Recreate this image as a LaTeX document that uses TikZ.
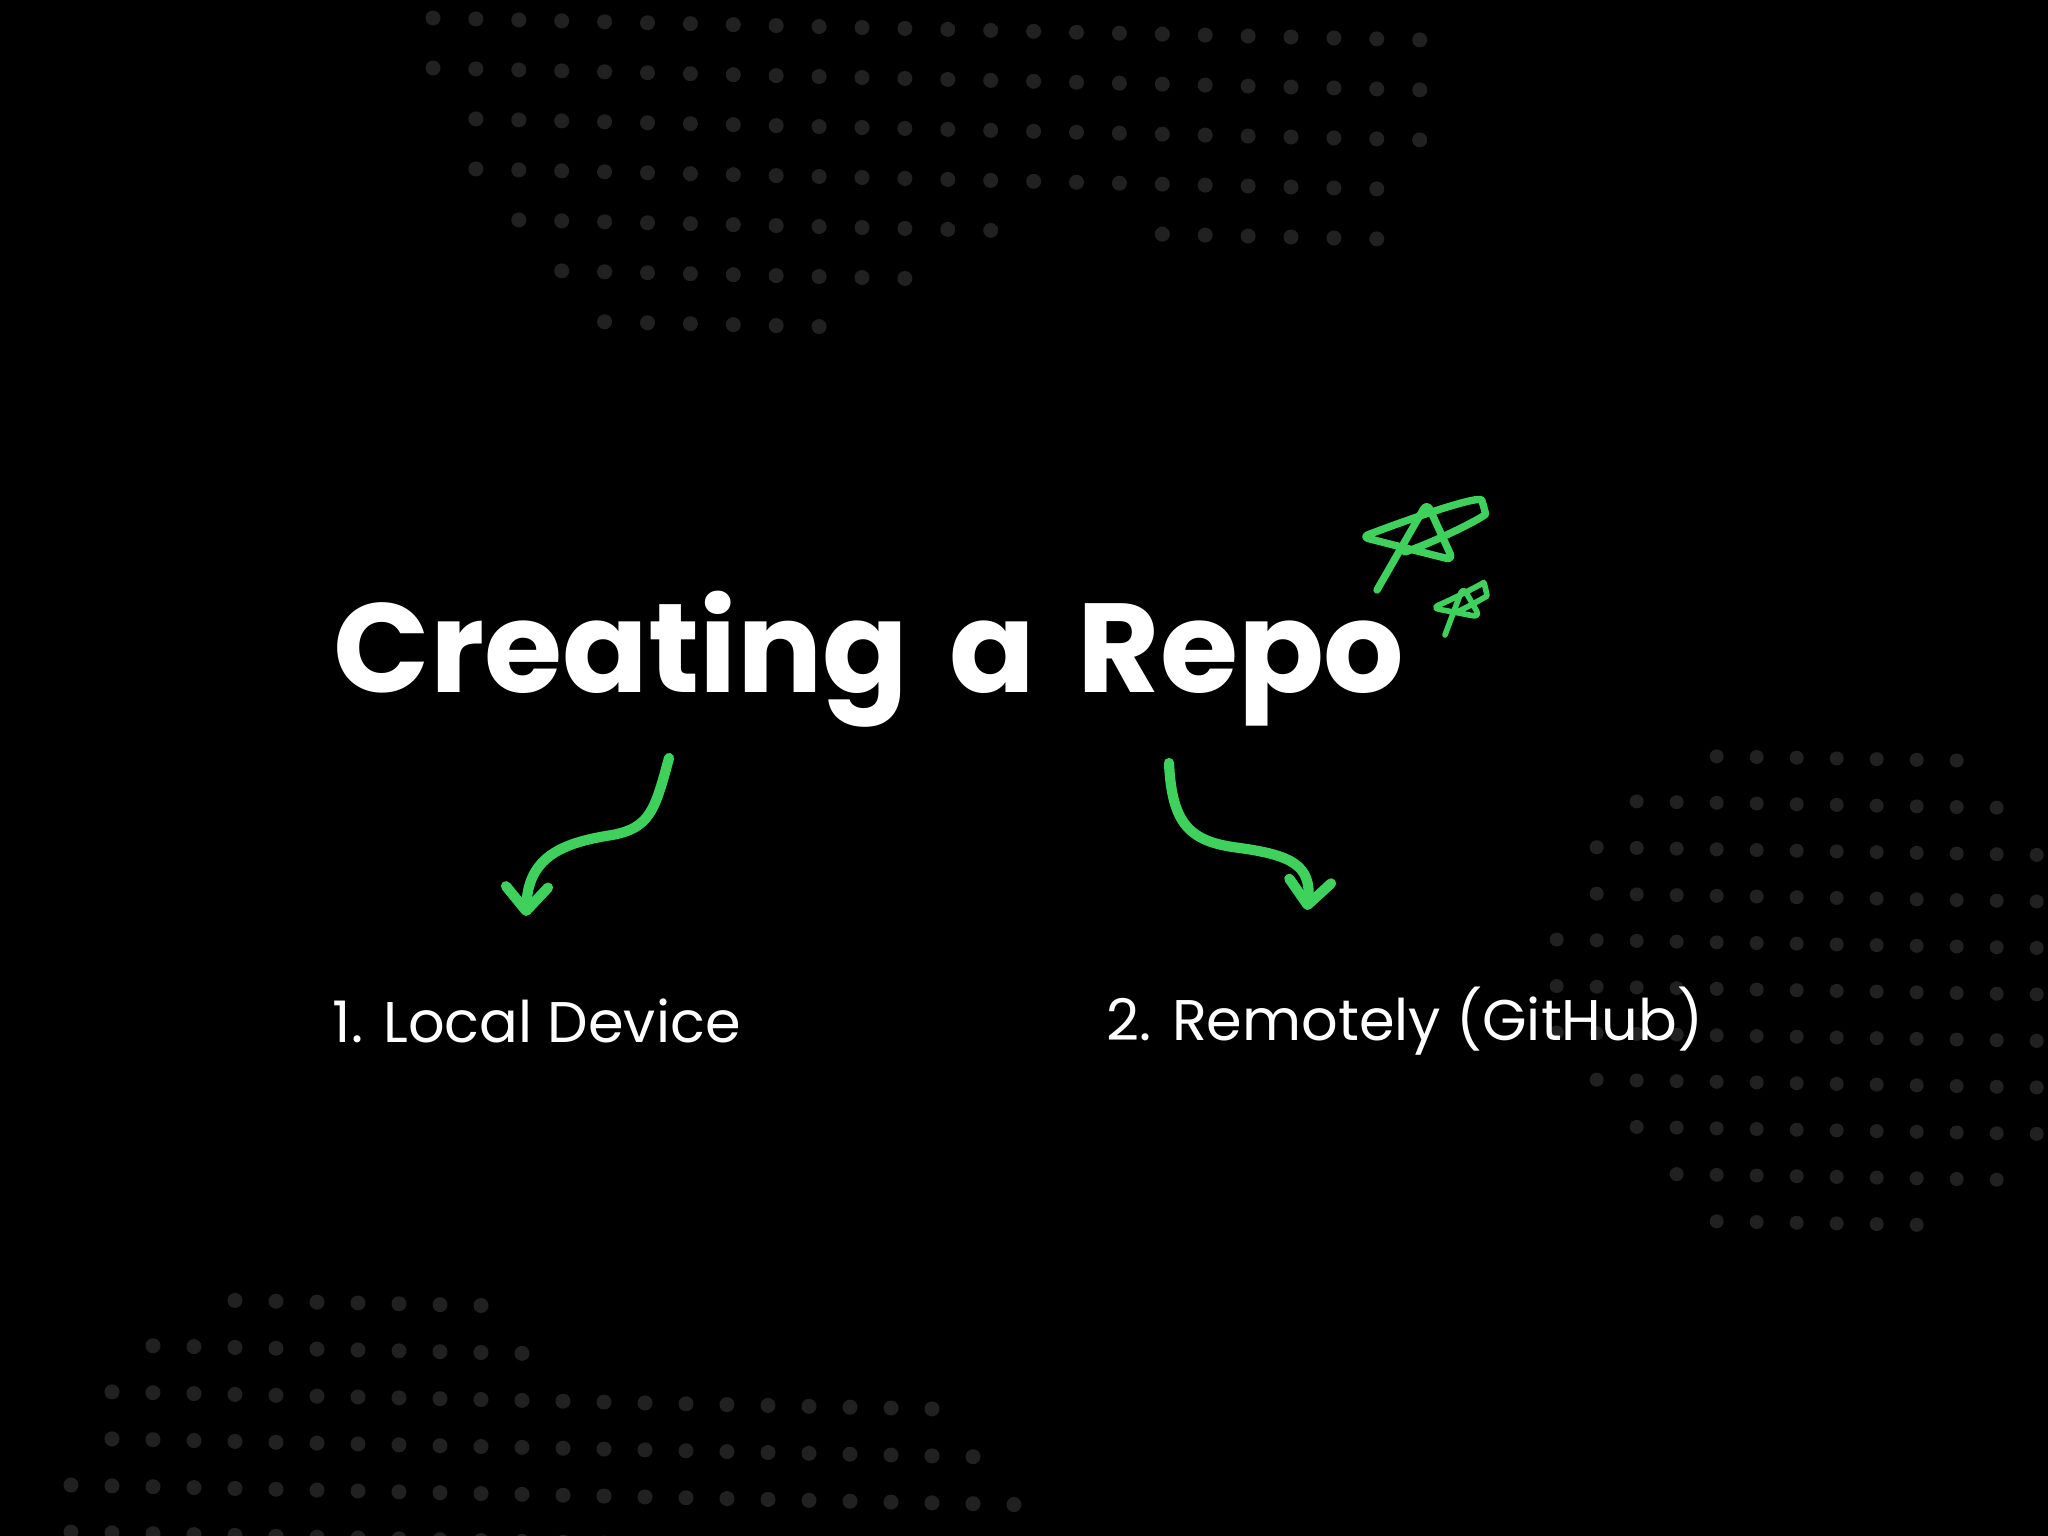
\documentclass[tikz,border=0pt]{standalone}
\usepackage{fontspec}
\setmainfont{Poppins}
\newfontfamily\titlefont{Poppins}[WordSpace=1.55]
\usepackage{xcolor}
\usepackage{tikz}
\usetikzlibrary{arrows.meta,positioning,calc}
\definecolor{accent}{RGB}{62,210,92}
\definecolor{dotgray}{RGB}{33,33,33}
\tikzset{
	headline/.style={text=white, inner sep=0pt, font=\titlefont\fontsize{36}{40}\selectfont\bfseries},
	handtext/.style={text=white, inner sep=0pt, font=\fontsize{16.3}{20}\selectfont},
	sketch/.style={draw=accent, line width=2.9pt, line cap=round, line join=round, -{Straight Barb[round, length=2.4mm, width=4.2mm]}},
	starline/.style={draw=accent, line width=2.1pt, line cap=round, line join=round, rounded corners=2pt},
	dot/.style={fill=dotgray}
}

\begin{document}
\begin{tikzpicture}[x=0.01cm, y=-0.01cm]
	\clip (0,0) rectangle (2048,1536);
	\fill[black] (0,0) rectangle (2048,1536);
	\foreach \j/\a/\b in {0/0/23, 1/0/23, 2/1/23, 3/1/22, 4/2/13, 4/17/22, 5/3/11, 6/4/9}
		\foreach \i in {\a,...,\b}
			\fill[dot] ({433+42.9*\i}, {18+50*\j+0.95*\i}) circle[radius=7.5];
	\foreach \j/\a/\b in {0/4/10, 1/2/11, 2/1/12, 3/1/12, 4/0/12, 5/0/12, 6/0/12, 7/1/12, 8/2/12, 9/3/11, 10/4/9}
		\foreach \i in {\a,...,\b}
			\fill[dot] ({1556.7+40*\i}, {753.5+46.5*\j+0.7*\i}) circle[radius=7];
	\foreach \j/\a/\b in {0/4/10, 1/2/11, 2/1/21, 3/1/22, 4/0/23, 5/0/23}
		\foreach \i in {\a,...,\b}
			\fill[dot] ({71+41*\i}, {1297+47*\j+0.85*\i}) circle[radius=7.5];
	\node[headline, anchor=base west] (title) at (333,692) {Creating a Repo};
	\node[handtext, anchor=base west] (local) at (332,1042) {1. Local Device};
	\node[handtext, anchor=base west] (remote) at (1106,1040) {2. Remotely (GitHub)};
	\coordinate (local-from) at (669,758);
	\coordinate (local-to) at (526,916);
	\coordinate (remote-from) at (1169,763);
	\coordinate (remote-to) at (1307,910);
	\draw[sketch] (local-from) .. controls (655,810) and (650,828) .. (612,835) .. controls (560,843) and (528,858) .. (local-to);
	\draw[sketch] (remote-from) .. controls (1172,825) and (1190,842) .. (1240,848) .. controls (1290,855) and (1312,865) .. (remote-to);
	\draw[starline] (1377,590) -- (1427,503) -- (1453,560) -- (1362,537) .. controls (1420,515) and (1480,495) .. (1484,507) .. controls (1486,516) and (1440,540) .. (1405,552);
	\draw[starline, line width=1.6pt] (1445,635) -- (1463,587) -- (1480,617) -- (1432,608) .. controls (1455,598) and (1484,583) .. (1486,589) .. controls (1487,596) and (1470,606) .. (1457,612);
\end{tikzpicture}
\end{document}
